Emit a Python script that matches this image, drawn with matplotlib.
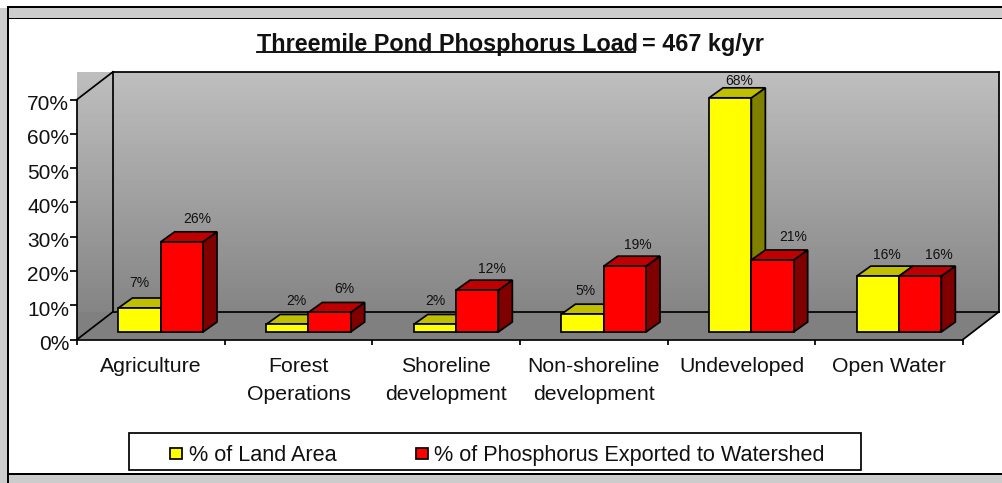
import numpy as np
import matplotlib
matplotlib.use("Agg")
import matplotlib.pyplot as plt
from matplotlib.patches import Polygon, Rectangle
from matplotlib.lines import Line2D
from matplotlib.transforms import ScaledTranslation

categories = ["Agriculture", "Forest\nOperations", "Shoreline\ndevelopment",
              "Non-shoreline\ndevelopment", "Undeveloped", "Open Water"]
land_area = [7.0, 2.2, 2.2, 5.2, 68.3, 16.3]
phosphorus = [26.3, 5.7, 12.2, 19.2, 21.0, 16.3]
series_names = ["% of Land Area", "% of Phosphorus Exported to Watershed"]
y_ticks = [0, 10, 20, 30, 40, 50, 60, 70]

# label nudges in pixels (from the front centre and the front top of each bar)
land_nudge_x = [0, 9, 0, 3, 9, 9]
land_nudge_y = [25, 23, 23, 23, 17, 21]
phos_nudge_x = [15, 15, 15, 13, 21, 19]
phos_nudge_y = [23, 23, 21, 21, 23, 21]

W, H = 1002, 483
LEFT, RIGHT, TOP, BOTTOM = 77, 963, 99.5, 339.5

plt.rcParams["font.family"] = ["Liberation Sans", "DejaVu Sans"]
TICK_SIZE = 15.3
TITLE_SIZE = 16.8
LW = 1.25


def fx(px):
    return px / W


def fy(py):
    return 1 - py / H


fig = plt.figure(figsize=(W / 100, H / 100), dpi=100, facecolor="white")
ax = fig.add_axes([fx(LEFT), fy(BOTTOM), fx(RIGHT) - fx(LEFT), (BOTTOM - TOP) / H])
ax.patch.set_visible(False)

# depth of the 3D box, in data units
px_x = 6 / (RIGHT - LEFT)
px_y = 70 / (BOTTOM - TOP)
DEPTH_X = 36 * px_x
DEPTH_Y = 27.7 * px_y
BAR_W = 42.3 * px_x
GAP = 31.7 * px_x
BAR_DX = 9.7 * px_x
BAR_DY = 7.5 * px_y
BAR_DEPTH_X = 14 * px_x
BAR_DEPTH_Y = 10 * px_y

# walls
gradient = np.linspace(0.745, 0.52, 120).reshape(-1, 1)
ax.imshow(gradient, cmap="gray", vmin=0, vmax=1, aspect="auto", zorder=0, clip_on=False,
          extent=[0, 6 + DEPTH_X, DEPTH_Y, 70 + DEPTH_Y])
ax.add_patch(Polygon([(0, 0), (6, 0), (6 + DEPTH_X, DEPTH_Y), (0, DEPTH_Y)],
                     facecolor="#808080", edgecolor="none", zorder=0, clip_on=False))

wall_lines = [
    ([0, DEPTH_X], [0, DEPTH_Y]),
    ([0, DEPTH_X], [70, 70 + DEPTH_Y]),
    ([6, 6 + DEPTH_X], [0, DEPTH_Y]),
    ([DEPTH_X, DEPTH_X], [DEPTH_Y, 70 + DEPTH_Y]),
    ([DEPTH_X, 6 + DEPTH_X], [70 + DEPTH_Y, 70 + DEPTH_Y]),
    ([DEPTH_X, 6 + DEPTH_X], [DEPTH_Y, DEPTH_Y]),
    ([6 + DEPTH_X, 6 + DEPTH_X], [DEPTH_Y, 70 + DEPTH_Y]),
]
for xs, ys in wall_lines:
    ax.plot(xs, ys, color="black", lw=LW, zorder=1, clip_on=False, solid_capstyle="projecting")


def draw_bar(left, value, face, top, side):
    x0 = left + BAR_DX
    x1 = x0 + BAR_W
    y0 = BAR_DY
    y1 = value + BAR_DY
    dx, dy = BAR_DEPTH_X, BAR_DEPTH_Y
    style = dict(edgecolor="black", lw=LW, joinstyle="miter", zorder=2, clip_on=False)
    ax.add_patch(Polygon([(x1, y0), (x1 + dx, y0 + dy), (x1 + dx, y1 + dy), (x1, y1)],
                         facecolor=side, **style))
    ax.add_patch(Polygon([(x0, y1), (x1, y1), (x1 + dx, y1 + dy), (x0 + dx, y1 + dy)],
                         facecolor=top, **style))
    ax.add_patch(Polygon([(x0, y0), (x1, y0), (x1, y1), (x0, y1)],
                         facecolor=face, **style))


def draw_label(left, value, nudge_x, nudge_y):
    ax.annotate(f"{value:.0f}%", xy=(left + BAR_DX + BAR_W / 2, value + BAR_DY),
                xytext=(nudge_x * 0.72, nudge_y * 0.72), textcoords="offset points",
                ha="center", va="center", fontsize=10, color="#111111", zorder=5,
                annotation_clip=False)


for i in range(len(categories)):
    left = i + GAP
    draw_bar(left, land_area[i], "#FFFF00", "#C0C000", "#808000")
    draw_bar(left + BAR_W, phosphorus[i], "#FF0000", "#C00000", "#800000")
    draw_label(left, land_area[i], land_nudge_x[i], land_nudge_y[i])
    draw_label(left + BAR_W, phosphorus[i], phos_nudge_x[i], phos_nudge_y[i])

# axes
ax.set_xlim(0, 6)
ax.set_ylim(0, 70)
for name in ["top", "right"]:
    ax.spines[name].set_visible(False)
for name in ["left", "bottom"]:
    ax.spines[name].set_linewidth(LW)
ax.set_yticks(y_ticks)
ax.set_yticklabels([f"{t}%" for t in y_ticks], fontsize=15, color="#111111")
ax.tick_params(axis="y", length=4.8, width=LW, pad=0.8)
# the reference prints its y labels a little under their ticks
shift_down = ScaledTranslation(0, -3 / 72 * 0.72, fig.dpi_scale_trans)
for label in ax.get_yticklabels():
    label.set_transform(label.get_transform() + shift_down)
ax.set_xticks(range(7))
ax.set_xticklabels([])
ax.tick_params(axis="x", which="major", length=3.6, width=LW)
ax.set_xticks(np.arange(len(categories)) + 0.5, minor=True)
ax.set_xticklabels(categories, minor=True, fontsize=TICK_SIZE, color="#111111", linespacing=1.62)
ax.tick_params(axis="x", which="minor", length=0, pad=12.5)

# outer chrome
for x, y, w, h, color in [
    (0, 8, 7, 475, "#CCCCCC"),
    (7, 7, 995, 11, "#CCCCCC"),
    (7, 475, 995, 8, "#CCCCCC"),
    (7, 6, 995, 1.7, "black"),
    (7, 18, 995, 1.2, "black"),
    (7, 6, 1.7, 477, "black"),
    (7, 473.2, 995, 1.7, "black"),
]:
    fig.add_artist(Rectangle((fx(x), fy(y + h)), w / W, h / H, transform=fig.transFigure,
                             facecolor=color, edgecolor="none"))

# title, underlined part drawn separately
fig.text(fx(257), fy(50.5), "Threemile Pond Phosphorus Load", fontsize=TITLE_SIZE, fontweight="bold",
         ha="left", va="baseline", color="#111111")
fig.text(fx(642), fy(50.5), "= 467 kg/yr", fontsize=TITLE_SIZE, fontweight="bold",
         ha="left", va="baseline", color="#111111")
fig.add_artist(Line2D([fx(257), fx(635)], [fy(51.5), fy(51.5)], color="black", lw=1.3,
                      transform=fig.transFigure))

# legend
fig.add_artist(Rectangle((fx(129), fy(470)), (861 - 129) / W, 37 / H, transform=fig.transFigure,
                         facecolor="white", edgecolor="black", lw=LW))
handles = [Rectangle((0, 0), 1, 1, facecolor="#FFFF00", edgecolor="black", lw=LW),
           Rectangle((0, 0), 1, 1, facecolor="#FF0000", edgecolor="black", lw=LW)]
fig.legend(handles, series_names, ncol=2, frameon=False, fontsize=15.6, loc="center",
           bbox_to_anchor=(fx(497.5), fy(455.5)), handlelength=0.55, handleheight=0.42,
           handletextpad=0.32, columnspacing=3.65, labelcolor="#111111")

fig.savefig("out.png", dpi=100)
